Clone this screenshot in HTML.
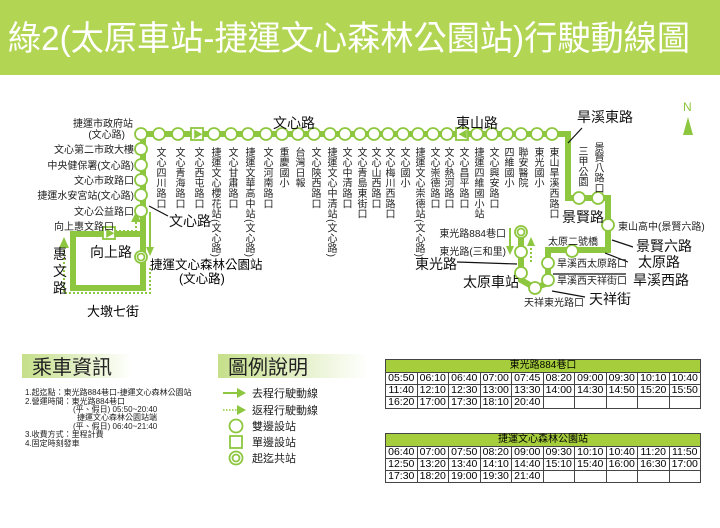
<!DOCTYPE html>
<html><head><meta charset="utf-8"><style>
body{margin:0;width:720px;height:528px;overflow:hidden;background:#fff;font-family:"Liberation Sans","Noto Sans CJK TC",sans-serif;position:relative}
.v{position:absolute;writing-mode:vertical-rl;font-size:10px;line-height:11px;color:#222;top:147px;letter-spacing:0.3px}
svg{position:absolute;left:0;top:0}
table{position:absolute;border-collapse:collapse;font-size:10.5px;font-family:"Liberation Sans",sans-serif;table-layout:fixed;width:316px}
td{border:1px solid #444;height:11px;padding:0;text-align:center;line-height:11px;overflow:hidden}
th{background:#a6cd3c;border:1px solid #444;font-weight:normal;height:12px;padding:0;font-size:10px;line-height:12px}
</style></head><body>
<svg width="720" height="528" font-family="Liberation Sans, Noto Sans CJK TC, sans-serif">
<defs>
<linearGradient id="g" x1="0" x2="1"><stop offset="0" stop-color="#c5df8a"/><stop offset="1" stop-color="#fff"/></linearGradient>
</defs>
<rect x="0" y="0" width="720" height="75" fill="#b2d653"/>
<text x="8" y="50" font-size="34" fill="#fff" textLength="682" lengthAdjust="spacingAndGlyphs">綠2(太原車站-捷運文心森林公園站)行駛動線圖</text>
<g stroke="#8dc63f" fill="none" stroke-width="6">
<polyline points="141,134 568,134 568,198 608,198 608,250 548,250 548,283 535,288 521,280 521,232"/>
<polyline points="143,134 143,288 73,288 73,234 143,234"/>
</g>
<g stroke="#8dc63f" fill="none" stroke-width="2" stroke-dasharray="2,2">
<polyline points="64,250 64,293 150,293 150,268"/>
<polyline points="115,231 136,231 136,220"/>
<line x1="531" y1="262" x2="531" y2="244"/>
</g>
<g fill="#8dc63f">
<polygon points="59,248 69,248 64,237"/>
<polygon points="131,222 141,222 136,212"/>
<polygon points="527,246 535,246 531,237"/>
<polygon points="146,247 154,247 150,256"/><rect x="149" y="212" width="2" height="36"/>
<polygon points="506,246 514,246 510,255"/><rect x="509" y="228" width="2" height="19"/>
<polygon points="683,135 693,135 688,117"/>
</g>
<text x="683" y="111" font-size="12" fill="#8dc63f">N</text>
<g fill="#fff" stroke="#8dc63f" stroke-width="1.8">
<circle cx="141" cy="134" r="6"/><circle cx="159" cy="134" r="6"/><circle cx="178" cy="134" r="6"/>
<circle cx="214" cy="134" r="6"/><circle cx="231" cy="134" r="6"/><circle cx="248" cy="134" r="6"/><circle cx="266" cy="134" r="6"/>
<circle cx="282" cy="134" r="6"/><circle cx="298" cy="134" r="6"/><circle cx="314" cy="134" r="6"/><circle cx="330" cy="134" r="6"/>
<circle cx="345" cy="134" r="6"/><circle cx="360" cy="134" r="6"/><circle cx="374" cy="134" r="6"/><circle cx="388" cy="134" r="6"/>
<circle cx="403" cy="134" r="6"/><circle cx="418" cy="134" r="6"/><circle cx="433" cy="134" r="6"/><circle cx="447" cy="134" r="6"/>
<circle cx="477" cy="134" r="6"/><circle cx="492" cy="134" r="6"/><circle cx="507" cy="134" r="6"/><circle cx="521" cy="134" r="6"/>
<circle cx="537" cy="134" r="6"/><circle cx="552" cy="134" r="6"/>
<circle cx="141" cy="149" r="6"/><circle cx="141" cy="165" r="6"/><circle cx="141" cy="180" r="6"/><circle cx="141" cy="195" r="6"/><circle cx="141" cy="211" r="6"/>
<circle cx="579" cy="198" r="6"/><circle cx="598" cy="198" r="6"/><circle cx="608" cy="225" r="6"/><circle cx="572" cy="251" r="6"/>
<circle cx="548" cy="263" r="6"/><circle cx="548" cy="280" r="6"/><circle cx="535" cy="288" r="6"/>
<circle cx="521" cy="252" r="6"/><circle cx="521" cy="273" r="6"/>
<circle cx="141" cy="257" r="6"/><circle cx="141" cy="257" r="3.5"/>
<circle cx="521" cy="232" r="6"/><circle cx="521" cy="232" r="3.5"/>
<rect x="191" y="128" width="12" height="12"/><rect x="456" y="128" width="12" height="12"/><rect x="103" y="227" width="12" height="12"/>
</g>
<g font-size="10" fill="#8dc63f"><text x="193" y="138">▶</text><text x="458" y="138">◀</text><text x="105" y="237">▶</text></g>
<g stroke="#111" stroke-width="1.2" fill="#111">
<line x1="168" y1="216" x2="149" y2="206"/><line x1="582" y1="128" x2="568" y2="143"/>
<line x1="633" y1="247" x2="612" y2="240"/><line x1="628" y1="262" x2="605" y2="253"/>
<line x1="626" y1="274" x2="553" y2="274"/><line x1="585" y1="297" x2="552" y2="291"/>
<line x1="457" y1="262" x2="517" y2="264"/>
</g>
<g font-size="14" fill="#111">
<text x="273" y="128">文心路</text><text x="456" y="128">東山路</text><text x="577" y="122">旱溪東路</text>
<text x="169" y="226">文心路</text><text x="90" y="257">向上路</text><text x="562" y="222">景賢路</text>
<text x="636" y="251">景賢六路</text><text x="638" y="267">太原路</text><text x="633" y="285">旱溪西路</text>
<text x="589" y="304">天祥街</text><text x="415" y="269">東光路</text><text x="463" y="287">太原車站</text>
<text x="53" y="259">惠</text><text x="53" y="276">文</text><text x="53" y="293">路</text>
</g>
<text x="87" y="316" font-size="13">大墩七街</text>
<g font-size="10" fill="#222" text-anchor="end">
<text x="133" y="127">捷運市政府站</text><text x="125" y="138">(文心路)</text>
<text x="134" y="153">文心第二市政大樓</text><text x="134" y="169">中央健保署(文心路)</text>
<text x="134" y="184">文心市政路口</text><text x="134" y="199">捷運水安宮站(文心路)</text>
<text x="134" y="215">文心公益路口</text><text x="114" y="230">向上惠文路口</text>
<text x="506" y="237">東光路884巷口</text><text x="506" y="255">東光路(三和里)</text>
</g>
<g font-size="10" fill="#222">
<text x="618" y="230">東山高中(景賢六路)</text><text x="548" y="245">太原二號橋</text>
<text x="557" y="267">旱溪西太原路口</text><text x="557" y="284">旱溪西天祥街口</text><text x="524" y="306">天祥東光路口</text>
</g>
<text x="150" y="269" font-size="12.5">捷運文心森林公園站</text><text x="179" y="283" font-size="12.5">(文心路)</text>
<rect x="22" y="354" width="110" height="24" fill="url(#g)"/>
<text x="32" y="374" font-size="20" fill="#222">乘車資訊</text>
<rect x="218" y="354" width="150" height="24" fill="url(#g)"/>
<text x="228" y="374" font-size="20" fill="#222">圖例說明</text>
<g font-size="8" fill="#222">
<text x="25" y="395">1.起迄點：東光路884巷口-捷運文心森林公園站</text>
<text x="25" y="404">2.營運時間：東光路884巷口</text>
<text x="73" y="412">(平、假日) 05:50~20:40</text>
<text x="77" y="420">捷運文心森林公園站端</text>
<text x="73" y="429">(平、假日) 06:40~21:40</text>
<text x="25" y="437">3.收費方式：里程計費</text>
<text x="25" y="446">4.固定時刻發車</text>
</g>
<g fill="#8dc63f" stroke="#8dc63f">
<line x1="223" y1="393" x2="238" y2="393" stroke-width="2"/><polygon points="237,388 246,393 237,398" stroke="none"/>
<line x1="223" y1="410" x2="238" y2="410" stroke-width="1.5" stroke-dasharray="1.5,1.5"/><polygon points="237,405 246,410 237,415" stroke="none"/>
</g>
<g fill="none" stroke="#8dc63f" stroke-width="1.8">
<circle cx="236" cy="426" r="6.5"/><rect x="230" y="436" width="12" height="12"/>
<circle cx="236" cy="458" r="6.5"/><circle cx="236" cy="458" r="3.5"/>
</g>
<g font-size="11" fill="#222">
<text x="252" y="397">去程行駛動線</text><text x="252" y="414">返程行駛動線</text><text x="252" y="430">雙邊設站</text>
<text x="252" y="446">單邊設站</text><text x="252" y="462">起迄共站</text>
</g>
</svg>
<div class="v" style="left:154px">文心四川路口</div>
<div class="v" style="left:173px">文心青海路口</div>
<div class="v" style="left:192px">文心西屯路口</div>
<div class="v" style="left:209px">捷運文心櫻花站(文心路)</div>
<div class="v" style="left:226px">文心甘肅路口</div>
<div class="v" style="left:243px">捷運文華高中站(文心路)</div>
<div class="v" style="left:261px">文心河南路口</div>
<div class="v" style="left:277px">重慶國小</div>
<div class="v" style="left:293px">台灣日報</div>
<div class="v" style="left:309px">文心陝西路口</div>
<div class="v" style="left:325px">捷運文心中清站(文心路)</div>
<div class="v" style="left:340px">文心中清路口</div>
<div class="v" style="left:355px">文心青島東街口</div>
<div class="v" style="left:369px">文心山西路口</div>
<div class="v" style="left:383px">文心梅川西路口</div>
<div class="v" style="left:398px">文心國小</div>
<div class="v" style="left:413px">捷運文心崇德站(文心路)</div>
<div class="v" style="left:428px">文心崇德路口</div>
<div class="v" style="left:442px">文心熱河路口</div>
<div class="v" style="left:457px">文心昌平路口</div>
<div class="v" style="left:472px">捷運四維國小站</div>
<div class="v" style="left:487px">文心興安路口</div>
<div class="v" style="left:502px">四維國小</div>
<div class="v" style="left:516px">聯安醫院</div>
<div class="v" style="left:532px">東光國小</div>
<div class="v" style="left:547px">東山旱溪西路口</div>
<div class="v" style="left:576px;top:146px">三甲公園</div>
<div class="v" style="left:592px;top:142px">景賢八路口</div>
<table style="left:385px;top:359px"><tr><th colspan="10">東光路884巷口</th></tr>
<tr><td>05:50</td><td>06:10</td><td>06:40</td><td>07:00</td><td>07:45</td><td>08:20</td><td>09:00</td><td>09:30</td><td>10:10</td><td>10:40</td></tr>
<tr><td>11:40</td><td>12:10</td><td>12:30</td><td>13:00</td><td>13:30</td><td>14:00</td><td>14:30</td><td>14:50</td><td>15:20</td><td>15:50</td></tr>
<tr><td>16:20</td><td>17:00</td><td>17:30</td><td>18:10</td><td>20:40</td><td></td><td></td><td></td><td></td><td></td></tr></table>
<table style="left:385px;top:433px"><tr><th colspan="10">捷運文心森林公園站</th></tr>
<tr><td>06:40</td><td>07:00</td><td>07:50</td><td>08:20</td><td>09:00</td><td>09:30</td><td>10:10</td><td>10:40</td><td>11:20</td><td>11:50</td></tr>
<tr><td>12:50</td><td>13:20</td><td>13:40</td><td>14:10</td><td>14:40</td><td>15:10</td><td>15:40</td><td>16:00</td><td>16:30</td><td>17:00</td></tr>
<tr><td>17:30</td><td>18:20</td><td>19:00</td><td>19:30</td><td>21:40</td><td></td><td></td><td></td><td></td><td></td></tr></table>
</body></html>
